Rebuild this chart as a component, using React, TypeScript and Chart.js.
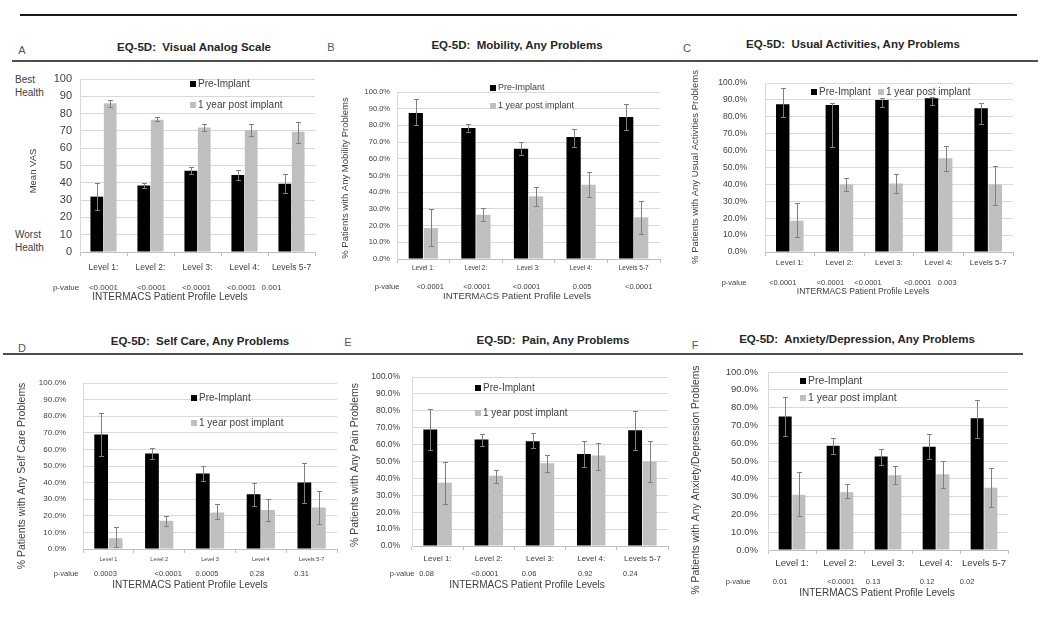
import React, { useEffect, useRef } from "react";
import { Chart, registerables } from "chart.js";

Chart.register(...registerables);

const FONT = '"Liberation Sans", Arial, Helvetica, sans-serif';

// ---------------- data ----------------
const seriesNames = ["Pre-Implant", "1 year post implant"];
const levelLabels = ["Level 1:", "Level 2:", "Level 3:", "Level 4:", "Levels 5-7"];
const levelLabelsSelfCare = ["Level 1", "Level 2", "Level 3", "Level 4", "Levels 5-7"];
const axisTicks = [0, 10, 20, 30, 40, 50, 60, 70, 80, 90, 100];

// A: Visual Analog Scale (mean VAS)
const vasPre = [32, 38.5, 47, 44.5, 39.5];
const vasPreLow = [24, 37, 45, 41.5, 34];
const vasPreHigh = [40, 40, 49, 47.5, 45];
const vasPost = [86, 76.5, 72, 70.5, 69.5];
const vasPostLow = [84, 75.5, 70, 67, 63];
const vasPostHigh = [88, 78, 74, 74, 75];
const vasP = ["<0.0001", "<0.0001", "<0.0001", "<0.0001", "0.001"];

// B: Mobility
const mobPre = [87.5, 78.5, 66, 73, 85];
const mobPreLow = [80, 76, 62, 67, 77];
const mobPreHigh = [96, 81, 70, 78, 93];
const mobPost = [18.5, 26.5, 37.5, 44.5, 25];
const mobPostLow = [8, 23, 32, 37, 15];
const mobPostHigh = [30, 30.5, 43, 52, 35];
const mobP = ["<0.0001", "<0.0001", "<0.0001", "0.005", "<0.0001"];

// C: Usual Activities
const uaPre = [87.5, 87, 90, 91, 85];
const uaPreLow = [80, 62, 86, 87, 76];
const uaPreHigh = [97, 88, 91, 92, 88];
const uaPost = [18.5, 40, 40.5, 55.5, 40];
const uaPostLow = [9, 36, 35, 48, 28];
const uaPostHigh = [29, 44, 46, 63, 51];
const uaP = ["<0.0001", "<0.0001", "<0.0001", "<0.0001", "0.003"];

// D: Self Care
const scPre = [69, 57.5, 45.5, 33, 40];
const scPreLow = [56, 54, 41, 26, 28];
const scPreHigh = [82, 61, 50, 40, 52];
const scPost = [6.5, 17, 22, 23.5, 25];
const scPostLow = [1, 14, 18, 17, 15];
const scPostHigh = [13, 20, 27, 30, 35];
const scP = ["0.0003", "<0.0001", "0.0005", "0.28", "0.31"];

// E: Pain
const painPre = [69, 63, 62, 54.5, 68.5];
const painPreLow = [57, 59, 58, 47, 57];
const painPreHigh = [81, 66, 67, 62, 80];
const painPost = [37.5, 41.5, 49, 53.5, 50];
const painPostLow = [25, 37, 44, 45, 38];
const painPostHigh = [50, 45, 54, 61, 62];
const painP = ["0.08", "<0.0001", "0.06", "0.92", "0.24"];

// F: Anxiety / Depression
const adPre = [75, 58.5, 52.5, 58, 74];
const adPreLow = [64, 54, 48, 51, 63];
const adPreHigh = [86, 63, 57, 65, 84];
const adPost = [31, 32.5, 42, 42.5, 35];
const adPostLow = [19, 29, 37, 35, 24];
const adPostHigh = [44, 37, 47, 50, 46];
const adP = ["0.01", "<0.0001", "0.13", "0.12", "0.02"];

// ---------------- layout ----------------
type Rect = { x: number; y: number; w: number; h: number };
type Plot = { l: number; r: number; t: number; b: number };
type Fonts = { tick: number; cat: number; pval: number; xTitle: number; yTitle: number; legend: number };
type PanelSpec = {
  key: string;
  letter: string;
  letterPos: [number, number];
  title: string;
  titlePos: [number, number];
  cats: string[];
  pre: number[];
  preLow: number[];
  preHigh: number[];
  post: number[];
  postLow: number[];
  postHigh: number[];
  pvals: string[];
  percent: boolean;
  yTitle: string;
  box: Rect;
  plot: Plot;
  f: Fonts;
  tickPad: number;
  catPad: number;
  yTitlePos: [number, number];
  pLabelX: number;
  pRowY: number;
  pShift: number[];
  xTitlePos: [number, number];
  legend: [number, number][];
};

const XTITLE = "INTERMACS Patient Profile Levels";

const panels: PanelSpec[] = [
  {
    key: "A", letter: "A", letterPos: [22, 50],
    title: "EQ-5D:  Visual Analog Scale", titlePos: [194, 48],
    cats: levelLabels, pre: vasPre, preLow: vasPreLow, preHigh: vasPreHigh,
    post: vasPost, postLow: vasPostLow, postHigh: vasPostHigh, pvals: vasP,
    percent: false, yTitle: "Mean VAS",
    box: { x: 0, y: 65, w: 330, h: 240 }, plot: { l: 80, r: 315, t: 79, b: 252 },
    f: { tick: 11, cat: 8.5, pval: 8, xTitle: 10, yTitle: 9.5, legend: 10 },
    tickPad: 8, catPad: 7, yTitlePos: [33, 171], pLabelX: 66, pRowY: 288, pShift: [0, 1, -1, -3, -20],
    xTitlePos: [170, 297], legend: [[193, 84], [193, 105]],
  },
  {
    key: "B", letter: "B", letterPos: [331, 47],
    title: "EQ-5D:  Mobility, Any Problems", titlePos: [517, 46],
    cats: levelLabels, pre: mobPre, preLow: mobPreLow, preHigh: mobPreHigh,
    post: mobPost, postLow: mobPostLow, postHigh: mobPostHigh, pvals: mobP,
    percent: true, yTitle: "% Patients with Any Mobility Problems",
    box: { x: 332, y: 78, w: 343, h: 227 }, plot: { l: 397, r: 660, t: 92, b: 259 },
    f: { tick: 7.5, cat: 6.5, pval: 7.5, xTitle: 9.5, yTitle: 9.5, legend: 9 },
    tickPad: 7, catPad: 1, yTitlePos: [345, 178], pLabelX: 387, pRowY: 287, pShift: [7, 1, -2, 1, 5],
    xTitlePos: [517, 296], legend: [[493, 88], [493, 106]],
  },
  {
    key: "C", letter: "C", letterPos: [687, 48],
    title: "EQ-5D:  Usual Activities, Any Problems", titlePos: [853, 45],
    cats: levelLabels, pre: uaPre, preLow: uaPreLow, preHigh: uaPreHigh,
    post: uaPost, postLow: uaPostLow, postHigh: uaPostHigh, pvals: uaP,
    percent: true, yTitle: "% Patients with Any Usual Activities Problems",
    box: { x: 680, y: 66, w: 350, h: 233 }, plot: { l: 765, r: 1013, t: 83, b: 252 },
    f: { tick: 8.5, cat: 8, pval: 7.5, xTitle: 8.5, yTitle: 9.5, legend: 10 },
    tickPad: 18, catPad: 2, yTitlePos: [695, 167], pLabelX: 734, pRowY: 283, pShift: [-7, -9, -21, -21, -41],
    xTitlePos: [863, 292], legend: [[814, 92], [881, 92]],
  },
  {
    key: "D", letter: "D", letterPos: [22, 348],
    title: "EQ-5D:  Self Care, Any Problems", titlePos: [200, 342],
    cats: levelLabelsSelfCare, pre: scPre, preLow: scPreLow, preHigh: scPreHigh,
    post: scPost, postLow: scPostLow, postHigh: scPostHigh, pvals: scP,
    percent: true, yTitle: "% Patients with Any Self Care Problems",
    box: { x: 0, y: 369, w: 350, h: 225 }, plot: { l: 83, r: 337, t: 383, b: 549 },
    f: { tick: 8, cat: 5.5, pval: 7.5, xTitle: 10, yTitle: 10.5, legend: 10 },
    tickPad: 17, catPad: 3, yTitlePos: [22, 476], pLabelX: 66, pRowY: 574, pShift: [-3, 9, -3, -4, -10],
    xTitlePos: [190, 585], legend: [[194, 398], [194, 423]],
  },
  {
    key: "E", letter: "E", letterPos: [348, 342],
    title: "EQ-5D:  Pain, Any Problems", titlePos: [553, 341],
    cats: levelLabels, pre: painPre, preLow: painPreLow, preHigh: painPreHigh,
    post: painPost, postLow: painPostLow, postHigh: painPostHigh, pvals: painP,
    percent: true, yTitle: "% Patients with Any Pain Problems",
    box: { x: 340, y: 363, w: 340, h: 230 }, plot: { l: 412, r: 668, t: 377, b: 546 },
    f: { tick: 8.5, cat: 8, pval: 7.5, xTitle: 10, yTitle: 10.5, legend: 10 },
    tickPad: 12, catPad: 3.5, yTitlePos: [355, 465], pLabelX: 402, pRowY: 574, pShift: [-11, -4, -11, -6, -12],
    xTitlePos: [527, 585], legend: [[478, 388], [478, 413]],
  },
  {
    key: "F", letter: "F", letterPos: [695, 345],
    title: "EQ-5D:  Anxiety/Depression, Any Problems", titlePos: [857, 340],
    cats: levelLabels, pre: adPre, preLow: adPreLow, preHigh: adPreHigh,
    post: adPost, postLow: adPostLow, postHigh: adPostHigh, pvals: adP,
    percent: true, yTitle: "% Patients with Any Anxiety/Depression Problems",
    box: { x: 680, y: 358, w: 340, h: 244 }, plot: { l: 768, r: 1008, t: 372, b: 550 },
    f: { tick: 9.5, cat: 9.5, pval: 7.5, xTitle: 10, yTitle: 10.3, legend: 10.5 },
    tickPad: 10, catPad: 3.3, yTitlePos: [696, 480], pLabelX: 738, pRowY: 582, pShift: [-12, 1, -15, -9, -17],
    xTitlePos: [877, 593], legend: [[803, 381], [803, 398]],
  },
];

const TEXT = "#404040";
const GRID = "#d9d9d9";
const AXIS = "#bfbfbf";
const PRE_COLOR = "#000000";
const POST_COLOR = "#bfbfbf";
const ERR_COLOR = "#808080";

function PanelChart({ p }: { p: PanelSpec }) {
  const ref = useRef<HTMLCanvasElement>(null);

  useEffect(() => {
    const canvas = ref.current;
    if (!canvas) return;
    const { box, plot, f } = p;
    const yW = plot.l - box.x;
    const padR = box.x + box.w - plot.r;
    const padT = plot.t - box.y;
    const xH = box.y + box.h - plot.b;
    const errs: [number[], number[]][] = [
      [p.preLow, p.preHigh],
      [p.postLow, p.postHigh],
    ];

    const extras = {
      id: "extras" + p.key,
      afterDatasetsDraw(chart: any) {
        const ctx = chart.ctx as CanvasRenderingContext2D;
        const ys = chart.scales.y;
        ctx.save();
        ctx.strokeStyle = ERR_COLOR;
        ctx.lineWidth = 1;
        errs.forEach(([lo, hi], di) => {
          const meta = chart.getDatasetMeta(di);
          meta.data.forEach((bar: any, j: number) => {
            const x = Math.round(bar.x) + 0.5;
            const y1 = Math.round(ys.getPixelForValue(lo[j])) + 0.5;
            const y2 = Math.round(ys.getPixelForValue(hi[j])) + 0.5;
            ctx.beginPath();
            ctx.moveTo(x, y1);
            ctx.lineTo(x, y2);
            ctx.moveTo(x - 2.5, y1);
            ctx.lineTo(x + 2.5, y1);
            ctx.moveTo(x - 2.5, y2);
            ctx.lineTo(x + 2.5, y2);
            ctx.stroke();
          });
        });
        ctx.restore();
      },
      afterDraw(chart: any) {
        const ctx = chart.ctx as CanvasRenderingContext2D;
        const xs = chart.scales.x;
        ctx.save();
        ctx.textBaseline = "middle";
        // legend
        chart.data.datasets.forEach((ds: any, i: number) => {
          const [lx, ly] = p.legend[i];
          ctx.fillStyle = ds.backgroundColor;
          ctx.fillRect(lx - 3 - box.x, ly - 3 - box.y, 6, 6);
          ctx.fillStyle = TEXT;
          ctx.textAlign = "left";
          ctx.font = `${f.legend}px ${FONT}`;
          ctx.fillText(ds.label, lx + 5 - box.x, ly - box.y);
        });
        // p-value row
        ctx.fillStyle = TEXT;
        ctx.font = `${f.pval}px ${FONT}`;
        ctx.textAlign = "center";
        ctx.fillText("p-value", p.pLabelX - box.x, p.pRowY - box.y);
        p.pvals.forEach((v, j) => {
          ctx.fillText(v, xs.getPixelForValue(j) + p.pShift[j], p.pRowY - box.y);
        });
        // x axis title
        ctx.font = `${f.xTitle}px ${FONT}`;
        ctx.fillText(XTITLE, p.xTitlePos[0] - box.x, p.xTitlePos[1] - box.y);
        // y axis title (rotated)
        ctx.save();
        ctx.translate(p.yTitlePos[0] - box.x, p.yTitlePos[1] - box.y);
        ctx.rotate(-Math.PI / 2);
        ctx.font = `${f.yTitle}px ${FONT}`;
        ctx.textAlign = "center";
        ctx.fillText(p.yTitle, 0, 0);
        ctx.restore();
        ctx.restore();
      },
    };

    const chart = new Chart(canvas, {
      type: "bar",
      data: {
        labels: p.cats,
        datasets: [
          { label: seriesNames[0], data: p.pre, backgroundColor: PRE_COLOR, borderWidth: 0 },
          { label: seriesNames[1], data: p.post, backgroundColor: POST_COLOR, borderWidth: 0 },
        ],
      },
      options: {
        responsive: false,
        animation: false,
        devicePixelRatio: 1,
        layout: { padding: { left: 0, top: padT, right: padR, bottom: 0 } },
        datasets: { bar: { categoryPercentage: 0.57, barPercentage: 0.95 } },
        plugins: {
          legend: { display: false },
          tooltip: { enabled: false },
          title: { display: false },
        },
        scales: {
          x: {
            type: "category",
            offset: true,
            grid: {
              display: true,
              drawOnChartArea: false,
              drawTicks: true,
              tickLength: 4,
              offset: true,
              color: AXIS,
            },
            border: { display: true, color: AXIS },
            ticks: {
              color: TEXT,
              font: { family: FONT, size: f.cat },
              padding: p.catPad,
              maxRotation: 0,
              minRotation: 0,
              autoSkip: false,
            },
            afterFit: (s: any) => {
              s.height = xH;
              s.paddingLeft = 0;
              s.paddingRight = 0;
              s.paddingTop = 0;
              s.paddingBottom = 0;
            },
          },
          y: {
            type: "linear",
            min: 0,
            max: 100,
            afterBuildTicks: (s: any) => {
              s.ticks = axisTicks.map((v) => ({ value: v }));
            },
            grid: { color: GRID, drawTicks: false },
            border: { display: true, color: GRID },
            ticks: {
              color: TEXT,
              font: { family: FONT, size: f.tick },
              padding: p.tickPad,
              callback: (v: any) => (p.percent ? Number(v).toFixed(1) + "%" : String(v)),
            },
            title: { display: false },
            afterFit: (s: any) => {
              s.width = yW;
              s.paddingLeft = 0;
              s.paddingRight = 0;
              s.paddingTop = 0;
              s.paddingBottom = 0;
            },
          },
        },
      },
      plugins: [extras],
    } as any);

    return () => chart.destroy();
  }, [p]);

  return (
    <canvas
      ref={ref}
      width={p.box.w}
      height={p.box.h}
      style={{
        position: "absolute",
        left: p.box.x,
        top: p.box.y,
        width: p.box.w,
        height: p.box.h,
      }}
    />
  );
}

function Label({
  x, y, text, size, bold, color, align,
}: { x: number; y: number; text: string; size: number; bold?: boolean; color?: string; align?: "left" | "center" }) {
  return (
    <div
      style={{
        position: "absolute",
        left: x,
        top: y,
        transform: align === "left" ? "translate(0,-50%)" : "translate(-50%,-50%)",
        whiteSpace: "pre",
        fontFamily: FONT,
        fontSize: size,
        fontWeight: bold ? 700 : 400,
        color: color || "#262626",
        lineHeight: 1,
      }}
    >
      {text}
    </div>
  );
}

function Rule({ x1, x2, y, h, color }: { x1: number; x2: number; y: number; h: number; color: string }) {
  return (
    <div style={{ position: "absolute", left: x1, top: y - h / 2, width: x2 - x1, height: h, background: color }} />
  );
}

export default function App() {
  return (
    <div
      style={{
        position: "absolute",
        left: 0,
        top: 0,
        width: 1050,
        height: 622,
        overflow: "hidden",
        background: "#ffffff",
      }}
    >
      <Rule x1={20} x2={1017} y={15} h={2} color="#1a1a1a" />
      <Rule x1={12} x2={1038} y={61} h={2} color="#4d4d4d" />
      <Rule x1={3} x2={1023} y={354} h={2} color="#4d4d4d" />

      {panels.map((p) => (
        <React.Fragment key={p.key}>
          <Label x={p.letterPos[0]} y={p.letterPos[1]} text={p.letter} size={11} color="#555555" />
          <Label x={p.titlePos[0]} y={p.titlePos[1]} text={p.title} size={11.5} bold />
        </React.Fragment>
      ))}

      <Label x={15} y={80} text="Best" size={10} color={TEXT} align="left" />
      <Label x={15} y={93} text="Health" size={10} color={TEXT} align="left" />
      <Label x={15} y={235} text="Worst" size={10} color={TEXT} align="left" />
      <Label x={15} y={248} text="Health" size={10} color={TEXT} align="left" />

      {panels.map((p) => (
        <PanelChart key={"c" + p.key} p={p} />
      ))}
    </div>
  );
}
